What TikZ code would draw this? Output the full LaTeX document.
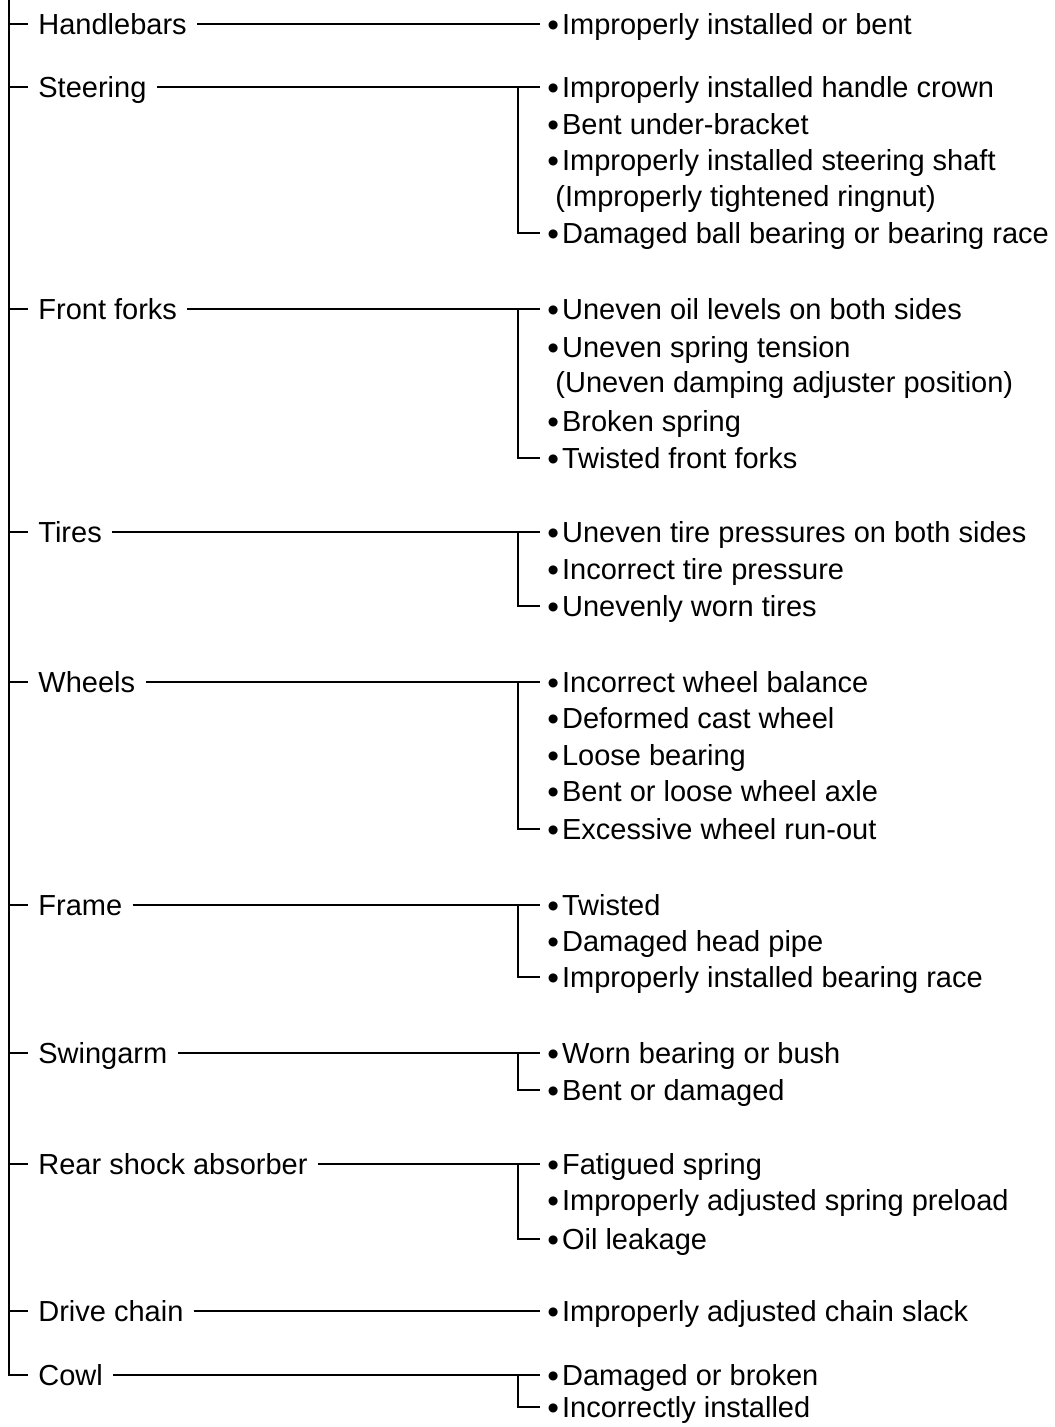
\documentclass[tikz,border=0pt]{standalone}
\usepackage{fontspec}
\setmainfont{Liberation Sans}
\usetikzlibrary{positioning}

\tikzset{
  cause/.style={anchor=west,inner xsep=5pt,inner ysep=0pt,text height=10.4pt,text depth=0pt,
    font=\fontsize{14.5}{17}\selectfont},
  fault/.style={cause,inner xsep=3.5pt},
  link/.style={line width=0.9pt},
  trunk/.style={line width=1.1pt}
}
\newcommand{\bul}{\raisebox{-0.9pt}{\scalebox{1.15}{\textbullet}}\hspace{1.5pt}}

\begin{document}
\begin{tikzpicture}[x=0.5pt,y=-0.5pt]
\useasboundingbox (0,0) rectangle (1054,1427);
\coordinate (top) at (9,0);
\coordinate (brx) at (518,0);

% causes
\node[cause] (hbar) at (28,24) {Handlebars};
\node[cause] (steer) at (28,87) {Steering};
\node[cause] (fork) at (28,309) {Front forks};
\node[cause] (tire) at (28,532) {Tires};
\node[cause] (whl) at (28,682) {Wheels};
\node[cause] (frm) at (28,905) {Frame};
\node[cause] (swg) at (28,1053) {Swingarm};
\node[cause] (shk) at (28,1164) {Rear shock absorber};
\node[cause] (chn) at (28,1311) {Drive chain};
\node[cause] (cowl) at (28,1375) {Cowl};

% faults
\node[fault] (hbar1) at (540,24) {\bul Improperly installed or bent};

\node[fault] (steer1) at (540,87) {\bul Improperly installed handle crown};
\node[fault] (steer2) at (540,124) {\bul Bent under-bracket};
\node[fault] (steer3) at (540,160) {\bul Improperly installed steering shaft};
\node[fault] (steer4) at (548,196) {(Improperly tightened ringnut)};
\node[fault] (steer5) at (540,233) {\bul Damaged ball bearing or bearing race};

\node[fault] (fork1) at (540,309) {\bul Uneven oil levels on both sides};
\node[fault] (fork2) at (540,347) {\bul Uneven spring tension};
\node[fault] (fork3) at (548,382) {(Uneven damping adjuster position)};
\node[fault] (fork4) at (540,421) {\bul Broken spring};
\node[fault] (fork5) at (540,458) {\bul Twisted front forks};

\node[fault] (tire1) at (540,532) {\bul Uneven tire pressures on both sides};
\node[fault] (tire2) at (540,569) {\bul Incorrect tire pressure};
\node[fault] (tire3) at (540,606) {\bul Unevenly worn tires};

\node[fault] (whl1) at (540,682) {\bul Incorrect wheel balance};
\node[fault] (whl2) at (540,718) {\bul Deformed cast wheel};
\node[fault] (whl3) at (540,755) {\bul Loose bearing};
\node[fault] (whl4) at (540,791) {\bul Bent or loose wheel axle};
\node[fault] (whl5) at (540,829) {\bul Excessive wheel run-out};

\node[fault] (frm1) at (540,905) {\bul Twisted};
\node[fault] (frm2) at (540,941) {\bul Damaged head pipe};
\node[fault] (frm3) at (540,977) {\bul Improperly installed bearing race};

\node[fault] (swg1) at (540,1053) {\bul Worn bearing or bush};
\node[fault] (swg2) at (540,1090) {\bul Bent or damaged};

\node[fault] (shk1) at (540,1164) {\bul Fatigued spring};
\node[fault] (shk2) at (540,1200) {\bul Improperly adjusted spring preload};
\node[fault] (shk3) at (540,1239) {\bul Oil leakage};

\node[fault] (chn1) at (540,1311) {\bul Improperly adjusted chain slack};

\node[fault] (cowl1) at (540,1375) {\bul Damaged or broken};
\node[fault] (cowl2) at (540,1407) {\bul Incorrectly installed};

% trunk and ticks
\draw[trunk] (top) -- (top |- cowl.west) -- (cowl.west);
\foreach \c in {hbar,steer,fork,tire,whl,frm,swg,shk,chn}
  \draw[link] (top |- \c.west) -- (\c.west);

% connectors
\foreach \c/\f in {hbar/hbar1,steer/steer1,fork/fork1,tire/tire1,whl/whl1,frm/frm1,swg/swg1,shk/shk1,chn/chn1,cowl/cowl1}
  \draw[link] (\c.east) -- (\f.west);

% brackets
\foreach \a/\b in {steer1/steer5,fork1/fork5,tire1/tire3,whl1/whl5,frm1/frm3,swg1/swg2,shk1/shk3,cowl1/cowl2}
  \draw[link] (\a.west -| brx) |- (\b.west);
\end{tikzpicture}
\end{document}
